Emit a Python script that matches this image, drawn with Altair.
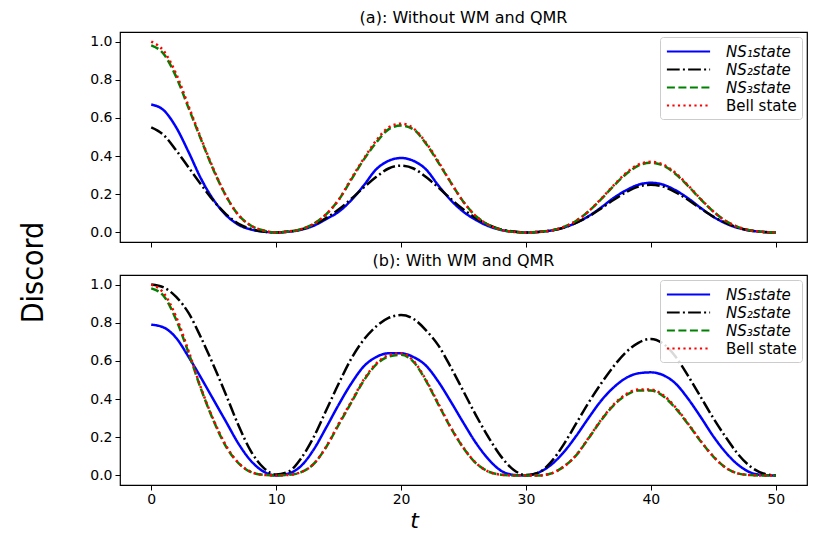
import altair as alt
import pandas as pd

T = list(range(51))

SERIES = ["NS₁state", "NS₂state", "NS₃state", "Bell state"]
COLORS = ["#0000ff", "#000000", "#008000", "#ff0000"]
DASHES = [[1, 0], [12.8, 3.2, 2, 3.2], [8, 3.5], [2.2, 3.3]]

# Panel (a): without WM and QMR
ns1_a = [0.67, 0.64, 0.55, 0.42, 0.28, 0.17, 0.09, 0.04, 0.015, 0.004, 0.0,
         0.004, 0.014, 0.035, 0.07, 0.108, 0.168, 0.245, 0.33, 0.375, 0.39,
         0.375, 0.33, 0.245, 0.168, 0.108, 0.065, 0.033, 0.013, 0.004, 0.0,
         0.003, 0.01, 0.025, 0.05, 0.085, 0.13, 0.18, 0.22, 0.25, 0.26,
         0.25, 0.22, 0.178, 0.128, 0.082, 0.047, 0.023, 0.009, 0.003, 0.0]
ns2_a = [0.55, 0.51, 0.43, 0.34, 0.25, 0.165, 0.095, 0.045, 0.018, 0.005, 0.0,
         0.005, 0.016, 0.04, 0.075, 0.12, 0.175, 0.235, 0.29, 0.335, 0.35,
         0.335, 0.29, 0.235, 0.175, 0.12, 0.075, 0.04, 0.016, 0.005, 0.0,
         0.003, 0.01, 0.025, 0.05, 0.083, 0.125, 0.17, 0.21, 0.24, 0.25,
         0.24, 0.21, 0.17, 0.125, 0.083, 0.05, 0.025, 0.01, 0.003, 0.0]
ns3_a = [0.98, 0.935, 0.815, 0.65, 0.485, 0.325, 0.19, 0.09, 0.035, 0.01, 0.0,
         0.005, 0.017, 0.045, 0.095, 0.17, 0.275, 0.38, 0.47, 0.54, 0.56,
         0.54, 0.465, 0.365, 0.26, 0.16, 0.085, 0.04, 0.014, 0.003, 0.0,
         0.003, 0.01, 0.028, 0.06, 0.11, 0.173, 0.242, 0.305, 0.35, 0.365,
         0.35, 0.305, 0.242, 0.173, 0.11, 0.06, 0.028, 0.01, 0.003, 0.0]
bell_a = [1.0, 0.95, 0.83, 0.66, 0.49, 0.33, 0.19, 0.09, 0.035, 0.01, 0.0,
          0.005, 0.017, 0.045, 0.095, 0.17, 0.28, 0.385, 0.48, 0.55, 0.57,
          0.545, 0.47, 0.37, 0.26, 0.16, 0.085, 0.04, 0.014, 0.003, 0.0,
          0.003, 0.01, 0.028, 0.06, 0.11, 0.175, 0.245, 0.31, 0.355, 0.37,
          0.355, 0.31, 0.245, 0.175, 0.11, 0.06, 0.028, 0.01, 0.003, 0.0]

# Panel (b): with WM and QMR
ns1_b = [0.79, 0.775, 0.72, 0.62, 0.51, 0.395, 0.28, 0.165, 0.075, 0.02, 0.0,
         0.01, 0.05, 0.135, 0.25, 0.37, 0.48, 0.57, 0.62, 0.64, 0.64,
         0.62, 0.575, 0.49, 0.385, 0.275, 0.17, 0.085, 0.025, 0.003, 0.0,
         0.015, 0.055, 0.12, 0.205, 0.3, 0.39, 0.46, 0.51, 0.535, 0.54,
         0.525, 0.48, 0.4, 0.305, 0.205, 0.12, 0.055, 0.015, 0.002, 0.0]
ns2_b = [1.0, 0.985, 0.935, 0.85, 0.72, 0.575, 0.42, 0.26, 0.125, 0.04, 0.005,
         0.02, 0.09, 0.2, 0.34, 0.48, 0.61, 0.71, 0.78, 0.825, 0.84,
         0.82, 0.76, 0.68, 0.565, 0.44, 0.315, 0.2, 0.1, 0.03, 0.002,
         0.015, 0.07, 0.16, 0.27, 0.38, 0.48, 0.57, 0.645, 0.695, 0.715,
         0.69, 0.62, 0.52, 0.41, 0.3, 0.2, 0.11, 0.045, 0.01, 0.0]
ns3_b = [0.98, 0.94, 0.815, 0.64, 0.45, 0.285, 0.15, 0.063, 0.017, 0.003, 0.0,
         0.003, 0.017, 0.06, 0.148, 0.265, 0.38, 0.495, 0.58, 0.622, 0.632,
         0.595, 0.495, 0.37, 0.248, 0.143, 0.064, 0.02, 0.004, 0.0, 0.0,
         0.0, 0.01, 0.045, 0.104, 0.193, 0.287, 0.366, 0.42, 0.445, 0.445,
         0.415, 0.35, 0.267, 0.178, 0.099, 0.04, 0.01, 0.002, 0.0, 0.0]
bell_b = [1.0, 0.955, 0.83, 0.65, 0.455, 0.29, 0.155, 0.065, 0.018, 0.003, 0.0,
          0.003, 0.017, 0.06, 0.15, 0.27, 0.385, 0.5, 0.585, 0.63, 0.64,
          0.6, 0.5, 0.375, 0.25, 0.145, 0.065, 0.02, 0.004, 0.0, 0.0,
          0.0, 0.01, 0.045, 0.105, 0.195, 0.29, 0.37, 0.425, 0.45, 0.45,
          0.42, 0.355, 0.27, 0.18, 0.1, 0.04, 0.01, 0.002, 0.0, 0.0]

X_TICKS = [0, 10, 20, 30, 40, 50]
Y_TICKS = [0.0, 0.2, 0.4, 0.6, 0.8, 1.0]

rows = []
for panel, arrays in (("a", [ns1_a, ns2_a, ns3_a, bell_a]),
                      ("b", [ns1_b, ns2_b, ns3_b, bell_b])):
    for name, vals in zip(SERIES, arrays):
        for t, v in zip(T, vals):
            rows.append({"panel": panel, "series": name, "t": t, "D": v})
df = pd.DataFrame(rows)

W, H = 687, 210

color_scale = alt.Scale(domain=SERIES, range=COLORS)
dash_scale = alt.Scale(domain=SERIES, range=DASHES)

legend = alt.Legend(
    title=None, orient="top-right", offset=5, padding=5,
    fillColor="rgba(255,255,255,0.85)", strokeColor="#cccccc", cornerRadius=3,
    symbolType="M-2.7,0H2.7", symbolSize=256, symbolStrokeWidth=2.2,
    symbolOffset=14, symbolFillColor="transparent",
    labelFont="DejaVu Sans", labelFontSize=15, labelColor="black",
    labelOffset=28, rowPadding=0,
    labelFontStyle={"expr": "datum.label == 'Bell state' ? 'normal' : 'italic'"},
)

common_axis = dict(grid=False, domain=False, tickColor="black", tickSize=5,
                   tickWidth=1, labelFont="DejaVu Sans", labelFontSize=14,
                   labelColor="black")


def panel_chart(panel, title, bottom):
    if bottom:
        xaxis = alt.Axis(values=X_TICKS, format="d", title="t", labelPadding=2,
                         titleFont="DejaVu Sans", titleFontSize=22,
                         titleFontStyle="italic", titleFontWeight="normal",
                         titleColor="black", titleX=294, titleY=42,
                         titleAlign="center", titleBaseline="alphabetic",
                         **common_axis)
        yaxis = alt.Axis(values=Y_TICKS, format=".1f", title=None,
                         labelPadding=3, **common_axis)
    else:
        xaxis = alt.Axis(values=X_TICKS, labels=False, title=None, **common_axis)
        yaxis = alt.Axis(values=Y_TICKS, format=".1f", title="Discord",
                         labelPadding=3,
                         titleFont="Liberation Sans Narrow, DejaVu Sans Condensed, sans-serif",
                         titleFontSize=30, titleFontWeight="normal",
                         titleColor="black", titleX=-87, titleY=240,
                         titleAlign="center", titleBaseline="middle",
                         titleAngle=270, **common_axis)
    layers = []
    for name in SERIES:
        layers.append(
            alt.Chart(df)
            .transform_filter((alt.datum.panel == panel) & (alt.datum.series == name))
            .mark_line(interpolate="monotone", strokeWidth=2.5)
            .encode(
                x=alt.X("t:Q", scale=alt.Scale(domain=[-2.5, 52.5], nice=False, zero=False), axis=xaxis),
                y=alt.Y("D:Q", scale=alt.Scale(domain=[-0.05, 1.05], nice=False, zero=False), axis=yaxis),
                color=alt.Color("series:N", scale=color_scale, legend=legend, sort=SERIES),
                strokeDash=alt.StrokeDash("series:N", scale=dash_scale, legend=legend, sort=SERIES),
            )
        )
    return alt.layer(*layers).properties(
        width=W, height=H,
        view=alt.ViewBackground(stroke="black", strokeWidth=1.2),
        title=alt.TitleParams(title, font="DejaVu Sans", fontSize=16,
                              fontWeight="normal", color="black", offset=6),
    )


top = panel_chart("a", "(a): Without WM and QMR", False)
bot = panel_chart("b", "(b): With WM and QMR", True)

chart = (
    alt.vconcat(top, bot, spacing=33, bounds="flush")
    .resolve_scale(color="independent", strokeDash="independent")
    .resolve_legend(color="independent", strokeDash="independent")
    .properties(padding={"left": 9, "top": 1, "right": 5, "bottom": 5})
    .configure_view(stroke="black", strokeWidth=1.2)
    .configure(background="white")
)

chart.save("out.html", embed_options={"renderer": "svg", "actions": False})
